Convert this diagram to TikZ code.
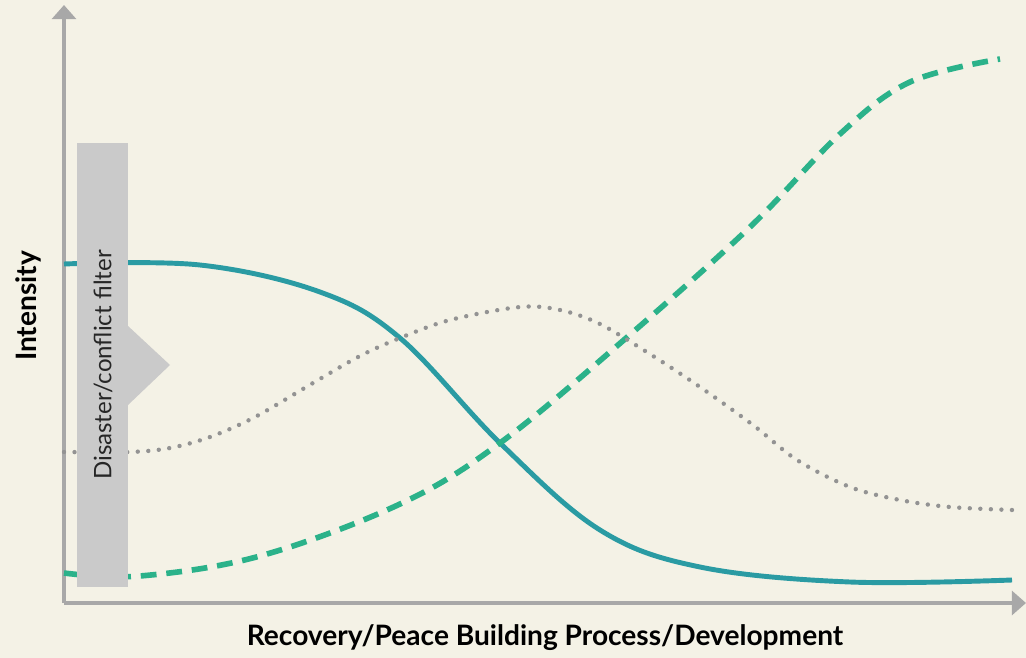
\documentclass[tikz,border=0pt]{standalone}
\usepackage{fontspec}
\setmainfont{Lato}
\usetikzlibrary{arrows.meta}

\definecolor{paper}{HTML}{F4F2E6}
\definecolor{axisgray}{HTML}{A8A8A8}
\definecolor{filtergray}{HTML}{CACACA}
\definecolor{teal}{HTML}{2A9BA3}
\definecolor{green}{HTML}{2BB28A}
\definecolor{dotgray}{HTML}{939393}

\begin{document}
\begin{tikzpicture}[x=0.02cm, y=-0.02cm]

    \tikzstyle{axis} = [draw=axisgray, line width=2.2pt, -{Triangle[length=8pt, width=13.5pt]}]
    \tikzstyle{filter} = [fill=filtergray, draw=none]
    \tikzstyle{relief} = [draw=teal, line width=2.8pt]
    \tikzstyle{develop} = [draw=green, line width=3.2pt, dash pattern=on 9pt off 5.6pt]
    \tikzstyle{recover} = [draw=dotgray, line width=2.5pt, line cap=round, dash pattern=on 0pt off 6pt]
    \tikzstyle{label} = [font=\bfseries\fontsize{16}{18}\selectfont, text=black]

    \fill[paper] (0,0) rectangle (1026,658);
    \useasboundingbox (0,0) rectangle (1026,658);

    % axes
    \coordinate (origin) at (64,603);
    \coordinate (ytip) at (64,5);
    \coordinate (xtip) at (1026,603);
    \draw[axis] (origin) -- (ytip);
    \draw[axis] (origin) -- (xtip);

    % curves
    \draw[relief] plot[smooth, tension=0.6] coordinates {(64,264) (200,265) (320,292) (400,338) (500,443) (600,530) (700,567) (850,582) (1012,580)};
    \draw[develop] plot[smooth, tension=0.6] coordinates {(64,573) (140,576) (260,556) (400,504) (500,443) (625,339) (750,227) (840,134) (910,82) (1000,59)};
    \draw[recover] plot[smooth, tension=0.55] coordinates {(64,452) (130,452) (170,448) (210,437) (255,417) (313,383) (360,356) (400,338) (450,320) (520,307) (560,310) (600,324) (653,356) (700,387) (753,425) (797,460) (850,487) (900,500) (950,507) (1012,510)};

    % filter
    \fill[filter] (77,143) rectangle (128,587);
    \fill[filter] (128,326) -- (170,365) -- (128,405) -- cycle;
    \node[rotate=90, font=\fontsize{13.7}{15}\selectfont, text=black!85] (filtertext) at (103,365) {Disaster/conflict filter};

    % labels
    \node[label, rotate=90] (ylabel) at (28,306) {Intensity};
    \node[label] (xlabel) at (545,638) {Recovery/Peace Building Process/Development};

\end{tikzpicture}
\end{document}
